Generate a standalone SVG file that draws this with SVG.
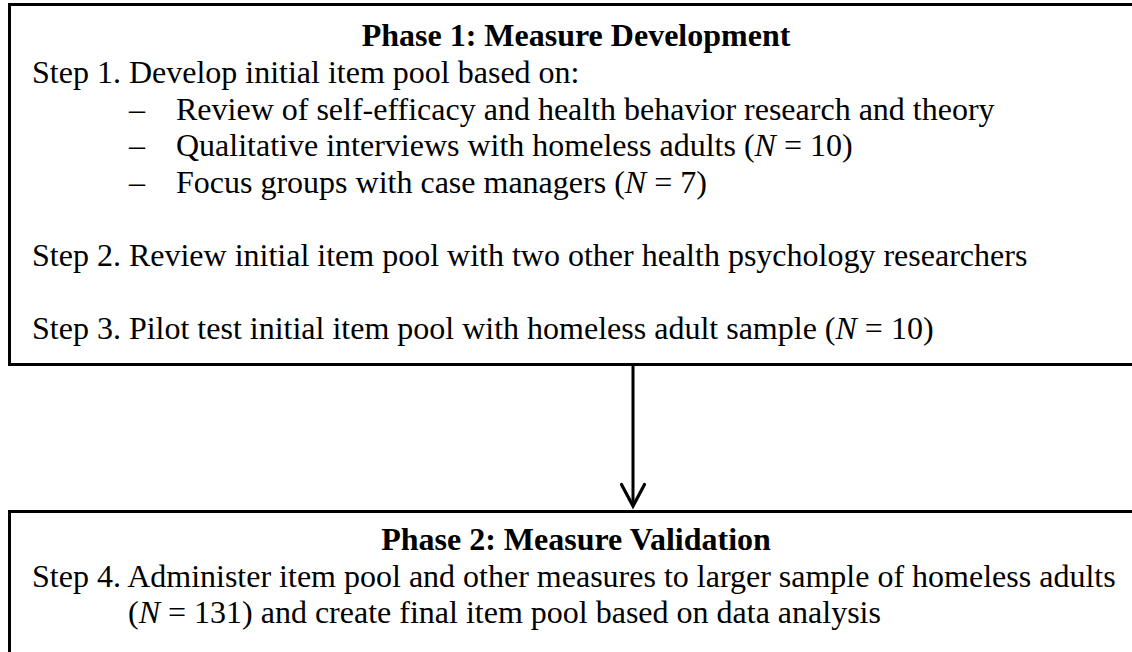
<svg xmlns="http://www.w3.org/2000/svg" width="1132" height="652" viewBox="0 0 1132 652">
  <defs>
    <style>
      .box { fill: #ffffff; stroke: #000000; stroke-width: 3; }
      .t { font-family: "Liberation Serif", "Times New Roman", serif; font-size: 32px; fill: #000000; }
      .h { font-weight: bold; text-anchor: middle; }
      .link { fill: none; stroke: #000000; stroke-width: 3; }
    </style>
    <!-- open chevron arrowhead, drawn along +x so orient="auto" points it down the line -->
    <marker id="chev" markerWidth="28" markerHeight="28" viewBox="0 0 28 28" refX="24" refY="14" orient="auto" markerUnits="userSpaceOnUse">
      <path d="M2.5,2.5 L24,14 L2.5,25.5" fill="none" stroke="#000" stroke-width="3.2" stroke-linecap="round" stroke-linejoin="miter"/>
    </marker>
  </defs>
  <rect width="1132" height="652" fill="#ffffff"/>

  <g id="phase1">
    <rect class="box" x="9.5" y="4.5" width="1140" height="360"/>
    <text class="t h" x="576" y="46">Phase 1: Measure Development</text>
    <text class="t" x="32" y="83">Step 1. Develop initial item pool based on:</text>
    <text class="t" x="129" y="119.5">–</text>
    <text class="t" x="176" y="119.5">Review of self-efficacy and health behavior research and theory</text>
    <text class="t" x="129" y="156">–</text>
    <text class="t" x="176" y="156">Qualitative interviews with homeless adults (<tspan font-style="italic">N</tspan> = 10)</text>
    <text class="t" x="129" y="192.5">–</text>
    <text class="t" x="176" y="192.5">Focus groups with case managers (<tspan font-style="italic">N</tspan> = 7)</text>
    <text class="t" x="32" y="266">Step 2. Review initial item pool with two other health psychology researchers</text>
    <text class="t" x="32" y="339">Step 3. Pilot test initial item pool with homeless adult sample (<tspan font-style="italic">N</tspan> = 10)</text>
  </g>

  <g id="connectors">
    <path class="link" d="M633,365 V506" marker-end="url(#chev)"/>
  </g>

  <g id="phase2">
    <rect class="box" x="9.5" y="511.5" width="1140" height="160"/>
    <text class="t h" x="576" y="550">Phase 2: Measure Validation</text>
    <text class="t" x="32" y="587">Step 4. Administer item pool and other measures to larger sample of homeless adults</text>
    <text class="t" x="128" y="623">(<tspan font-style="italic">N</tspan> = 131) and create final item pool based on data analysis</text>
  </g>
</svg>
